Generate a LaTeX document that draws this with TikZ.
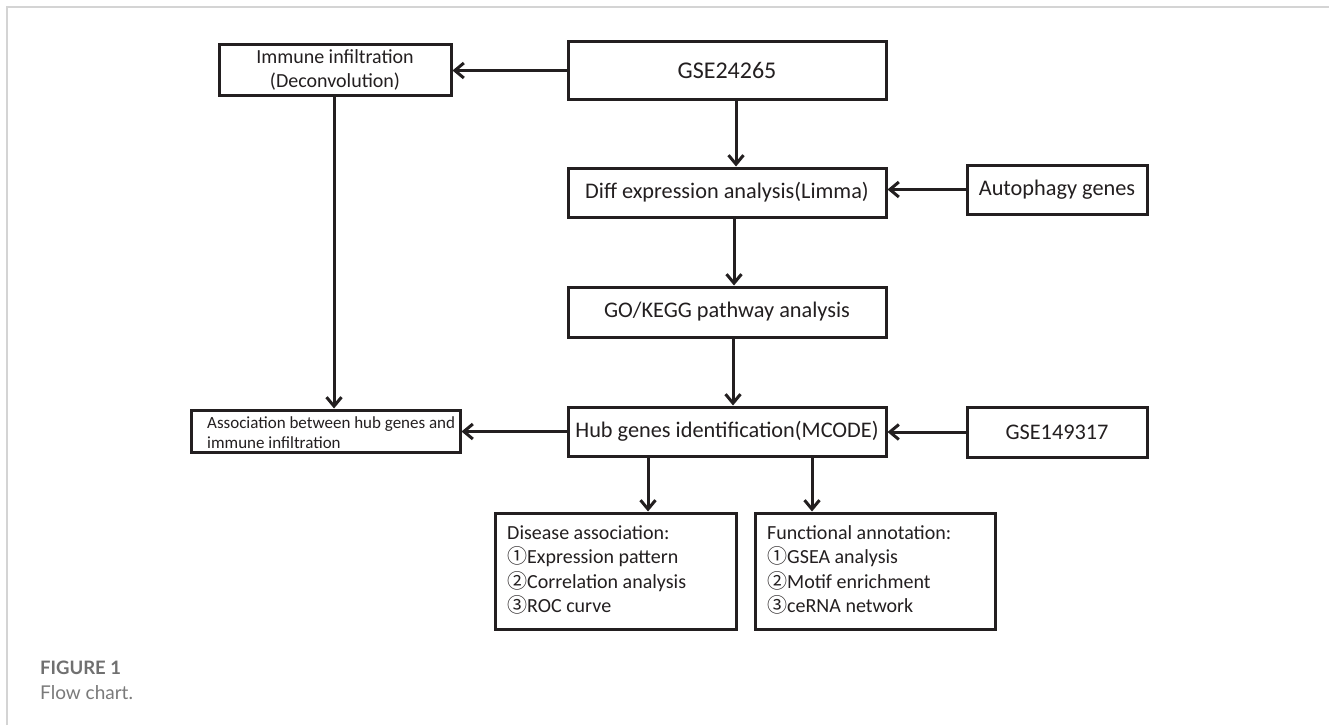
\documentclass[tikz,border=0pt]{standalone}
\usepackage{fontspec}
\setmainfont{Carlito}
\newfontfamily\cjk{Noto Sans CJK SC}
\newfontfamily\capfont{Lato}
\usetikzlibrary{arrows.meta}
\definecolor{ink}{HTML}{231F20}
\definecolor{framec}{HTML}{D4D4D4}
\definecolor{capgray}{HTML}{707070}
\definecolor{capgray2}{HTML}{7A7A7A}
\begin{document}
\begin{tikzpicture}[x=1pt,y=-1pt,
  box/.style={draw=ink, line width=3pt, inner sep=0pt, align=center, text=ink},
  arr/.style={draw=ink, line width=3pt, -{Straight Barb[length=9pt,width=15pt]}},
  ftmain/.style={font=\fontsize{22.3}{26}\selectfont},
  inner/.style={anchor=west, align=left, inner sep=0pt, text=ink}]
\useasboundingbox (0,0) rectangle (1329,725);
\fill[white] (0,0) rectangle (1329,725);
\draw[framec, line width=1.5pt] (7,725) -- (7,7) -- (1329,7);

% boxes
\node[box, minimum width=232pt, minimum height=50pt, font=\fontsize{20}{23.5}\selectfont] (imm) at (335,70) {Immune infiltration\\(Deconvolution)};
\node[box, minimum width=318pt, minimum height=57pt, font=\fontsize{24}{28}\selectfont] (gse1) at (727,70.5) {GSE24265};
\node[box, ftmain, minimum width=318pt, minimum height=49pt] (diff) at (727,192.5) {Diff expression analysis(Limma)};
\node[box, ftmain, minimum width=180pt, minimum height=49pt] (auto) at (1057,189.5) {Autophagy genes};
\node[box, ftmain, minimum width=318pt, minimum height=50pt] (go) at (727,312) {GO/KEGG pathway analysis};
\node[box, ftmain, minimum width=318pt, minimum height=49pt] (hub) at (727,431.5) {Hub genes identification(MCODE)};
\node[box, ftmain, minimum width=180pt, minimum height=50pt] (gse2) at (1057,432) {GSE149317};
\node[box, minimum width=269pt, minimum height=42pt] (assoc) at (325.5,431) {};
\node[inner, font=\fontsize{17}{20}\selectfont] (assoct) at (207,433) {Association between hub genes and\\immune infiltration};
\node[box, minimum width=241pt, minimum height=116pt] (dis) at (615.5,571) {};
\node[inner, font=\fontsize{20}{24.3}\selectfont] (dist) at (507,570) {Disease association:\\{\cjk ①}Expression pattern\\{\cjk ②}Correlation analysis\\{\cjk ③}ROC curve};
\node[box, minimum width=240pt, minimum height=116pt] (fun) at (875,571) {};
\node[inner, font=\fontsize{20}{24.3}\selectfont] (funt) at (767,570) {Functional annotation:\\{\cjk ①}GSEA analysis\\{\cjk ②}Motif enrichment\\{\cjk ③}ceRNA network};

% connectors
\draw[arr] (gse1.west) -- (gse1.west -| imm.east);
\draw[arr] ([xshift=9pt]gse1.south) -- ([xshift=9pt]gse1.south |- diff.north);
\draw[arr] (auto.west) -- (auto.west -| diff.east);
\draw[arr] ([xshift=7pt]diff.south) -- ([xshift=7pt]diff.south |- go.north);
\draw[arr] ([xshift=6pt]go.south) -- ([xshift=6pt]go.south |- hub.north);
\draw[arr] (gse2.west) -- (gse2.west -| hub.east);
\draw[arr] (hub.west) -- (hub.west -| assoc.east);
\draw[arr] ([xshift=-1pt]imm.south) -- ([xshift=-1pt]imm.south |- assoc.north);
\draw[arr] ([xshift=-79pt]hub.south) -- ([xshift=-79pt]hub.south |- dis.north);
\draw[arr] ([xshift=85pt]hub.south) -- ([xshift=85pt]hub.south |- fun.north);

% caption
\node[anchor=base west, inner sep=0pt, text=capgray, font=\capfont\bfseries\fontsize{18.5}{20}\selectfont] (figl) at (40,674.5) {FIGURE 1};
\node[anchor=base west, inner sep=0pt, text=capgray2, font=\capfont\fontsize{19}{20}\selectfont] (figc) at (40,699.5) {Flow chart.};
\end{tikzpicture}
\end{document}
